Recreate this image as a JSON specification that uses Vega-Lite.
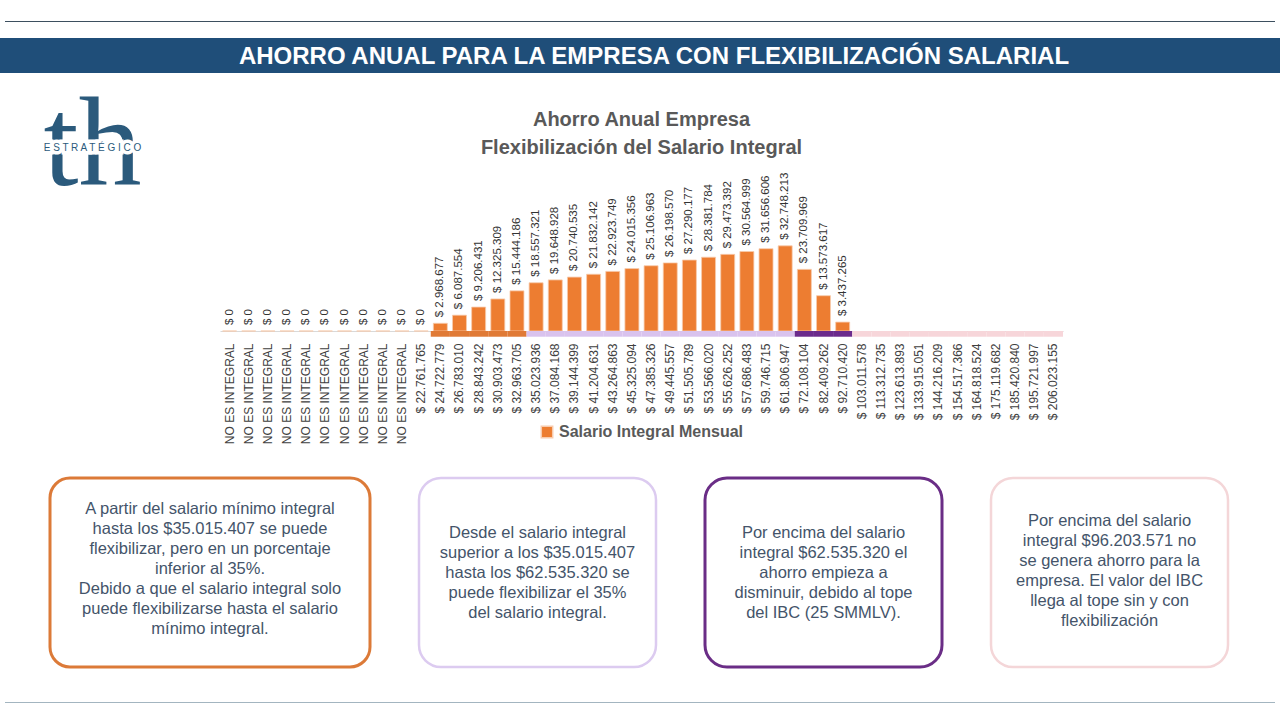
{
  "$schema": "https://vega.github.io/schema/vega-lite/v6.json",
  "description": "Ahorro anual para la empresa con flexibilización salarial",
  "padding": 0,
  "background": "white",
  "spacing": 0,
  "config": {
    "font": "Liberation Sans",
    "view": {"stroke": null},
    "concat": {"spacing": 0},
    "legend": {"layout": {"bottom": {"anchor": "middle"}}},
    "locale": {
      "number": {"decimal": ",", "thousands": ".", "grouping": [3], "currency": ["$ ", ""]}
    }
  },
  "vconcat": [
    {"width": 1280, "height": 21, "data": {"values": [{}]}, "mark": {"type": "rect", "opacity": 0}, "encoding": {}},
    {
      "hconcat": [
        {"width": 5, "height": 1, "data": {"values": [{}]}, "mark": {"type": "rect", "opacity": 0}, "encoding": {}},
        {"width": 1270, "height": 1, "data": {"values": [{}]}, "mark": {"type": "rect", "color": "#3d4f5f"}, "encoding": {}}
      ]
    },
    {"width": 1280, "height": 16, "data": {"values": [{}]}, "mark": {"type": "rect", "opacity": 0}, "encoding": {}},
    {
      "width": 1280,
      "height": 35,
      "view": {"fill": "#1f4e79"},
      "data": {"values": [{}]},
      "mark": {
        "type": "text",
        "text": "AHORRO ANUAL PARA LA EMPRESA CON FLEXIBILIZACIÓN SALARIAL",
        "color": "white",
        "fontSize": 24,
        "fontWeight": "bold",
        "baseline": "middle",
        "dx": 14,
        "dy": 1
      },
      "encoding": {}
    },
    {"width": 1280, "height": 11, "data": {"values": [{}]}, "mark": {"type": "rect", "opacity": 0}, "encoding": {}},
    {
      "spacing": 35,
      "hconcat": [
        {
          "width": 185,
          "height": 110,
          "data": {"values": [{}]},
          "layer": [
            {
              "mark": {"type": "text", "text": "th", "font": "Liberation Serif", "fontSize": 126, "color": "#2b5a7c", "baseline": "alphabetic", "dy": -32},
              "encoding": {}
            },
            {
              "mark": {"type": "text", "text": "E S T R A T É G I C O", "fontSize": 10, "color": "white", "stroke": "white", "strokeWidth": 7, "baseline": "middle", "dy": -69},
              "encoding": {}
            },
            {
              "mark": {"type": "text", "text": "E S T R A T É G I C O", "fontSize": 10, "color": "#2b5a7c", "baseline": "middle", "dy": -69},
              "encoding": {}
            }
          ]
        },
        {
          "width": 843,
          "height": 169,
          "title": {
            "text": ["Ahorro Anual Empresa", "Flexibilización del Salario Integral"],
            "fontSize": 20,
            "fontWeight": "bold",
            "color": "#595959",
            "lineHeight": 28,
            "offset": 4,
            "anchor": "middle"
          },
          "data": {
            "values": [
              {"salario": "NO ES INTEGRAL#1", "ahorro": 0, "tramo": null},
              {"salario": "NO ES INTEGRAL#2", "ahorro": 0, "tramo": null},
              {"salario": "NO ES INTEGRAL#3", "ahorro": 0, "tramo": null},
              {"salario": "NO ES INTEGRAL#4", "ahorro": 0, "tramo": null},
              {"salario": "NO ES INTEGRAL#5", "ahorro": 0, "tramo": null},
              {"salario": "NO ES INTEGRAL#6", "ahorro": 0, "tramo": null},
              {"salario": "NO ES INTEGRAL#7", "ahorro": 0, "tramo": null},
              {"salario": "NO ES INTEGRAL#8", "ahorro": 0, "tramo": null},
              {"salario": "NO ES INTEGRAL#9", "ahorro": 0, "tramo": null},
              {"salario": "NO ES INTEGRAL#10", "ahorro": 0, "tramo": null},
              {"salario": "$ 22.761.765", "ahorro": 0, "tramo": null},
              {"salario": "$ 24.722.779", "ahorro": 2968677, "tramo": "Flexibilización parcial"},
              {"salario": "$ 26.783.010", "ahorro": 6087554, "tramo": "Flexibilización parcial"},
              {"salario": "$ 28.843.242", "ahorro": 9206431, "tramo": "Flexibilización parcial"},
              {"salario": "$ 30.903.473", "ahorro": 12325309, "tramo": "Flexibilización parcial"},
              {"salario": "$ 32.963.705", "ahorro": 15444186, "tramo": "Flexibilización parcial"},
              {"salario": "$ 35.023.936", "ahorro": 18557321, "tramo": "Flexibilización 35%"},
              {"salario": "$ 37.084.168", "ahorro": 19648928, "tramo": "Flexibilización 35%"},
              {"salario": "$ 39.144.399", "ahorro": 20740535, "tramo": "Flexibilización 35%"},
              {"salario": "$ 41.204.631", "ahorro": 21832142, "tramo": "Flexibilización 35%"},
              {"salario": "$ 43.264.863", "ahorro": 22923749, "tramo": "Flexibilización 35%"},
              {"salario": "$ 45.325.094", "ahorro": 24015356, "tramo": "Flexibilización 35%"},
              {"salario": "$ 47.385.326", "ahorro": 25106963, "tramo": "Flexibilización 35%"},
              {"salario": "$ 49.445.557", "ahorro": 26198570, "tramo": "Flexibilización 35%"},
              {"salario": "$ 51.505.789", "ahorro": 27290177, "tramo": "Flexibilización 35%"},
              {"salario": "$ 53.566.020", "ahorro": 28381784, "tramo": "Flexibilización 35%"},
              {"salario": "$ 55.626.252", "ahorro": 29473392, "tramo": "Flexibilización 35%"},
              {"salario": "$ 57.686.483", "ahorro": 30564999, "tramo": "Flexibilización 35%"},
              {"salario": "$ 59.746.715", "ahorro": 31656606, "tramo": "Flexibilización 35%"},
              {"salario": "$ 61.806.947", "ahorro": 32748213, "tramo": "Flexibilización 35%"},
              {"salario": "$ 72.108.104", "ahorro": 23709969, "tramo": "Tope IBC"},
              {"salario": "$ 82.409.262", "ahorro": 13573617, "tramo": "Tope IBC"},
              {"salario": "$ 92.710.420", "ahorro": 3437265, "tramo": "Tope IBC"},
              {"salario": "$ 103.011.578", "ahorro": null, "tramo": "Sin ahorro"},
              {"salario": "$ 113.312.735", "ahorro": null, "tramo": "Sin ahorro"},
              {"salario": "$ 123.613.893", "ahorro": null, "tramo": "Sin ahorro"},
              {"salario": "$ 133.915.051", "ahorro": null, "tramo": "Sin ahorro"},
              {"salario": "$ 144.216.209", "ahorro": null, "tramo": "Sin ahorro"},
              {"salario": "$ 154.517.366", "ahorro": null, "tramo": "Sin ahorro"},
              {"salario": "$ 164.818.524", "ahorro": null, "tramo": "Sin ahorro"},
              {"salario": "$ 175.119.682", "ahorro": null, "tramo": "Sin ahorro"},
              {"salario": "$ 185.420.840", "ahorro": null, "tramo": "Sin ahorro"},
              {"salario": "$ 195.721.997", "ahorro": null, "tramo": "Sin ahorro"},
              {"salario": "$ 206.023.155", "ahorro": null, "tramo": "Sin ahorro"}
            ]
          },
          "encoding": {
            "x": {
              "field": "salario",
              "type": "ordinal",
              "sort": null,
              "title": null,
              "scale": {"paddingInner": 0.27},
              "axis": {
                "labelExpr": "split(datum.label, '#')[0]",
                "labelAngle": 270,
                "labelAlign": "right",
                "labelBaseline": "middle",
                "labelFontSize": 12,
                "labelColor": "#404040",
                "labelPadding": 12,
                "ticks": false,
                "domainColor": "#d9d9d9",
                "grid": false
              }
            }
          },
          "layer": [
            {
              "mark": {"type": "bar", "stroke": "#f8cbad", "strokeWidth": 0.8},
              "encoding": {
                "y": {"field": "ahorro", "type": "quantitative", "scale": {"domain": [0, 62900000]}, "axis": null},
                "color": {
                  "datum": "Salario Integral Mensual",
                  "type": "nominal",
                  "scale": {"range": ["#ed7d31"]},
                  "legend": {
                    "title": null,
                    "orient": "bottom",
                    "symbolType": "square",
                    "symbolSize": 130,
                    "labelFontSize": 16,
                    "labelFontWeight": "bold",
                    "labelColor": "#595959",
                    "labelLimit": 0,
                    "offset": -20
                  }
                }
              }
            },
            {
              "transform": [{"filter": "datum.tramo != null"}],
              "mark": {"type": "bar", "width": {"band": 1.37}},
              "encoding": {
                "y": {"datum": 0, "type": "quantitative", "scale": {"domain": [0, 62900000]}, "axis": null},
                "y2": {"datum": -2200000},
                "color": {
                  "field": "tramo",
                  "type": "nominal",
                  "scale": {
                    "domain": ["Flexibilización parcial", "Flexibilización 35%", "Tope IBC", "Sin ahorro"],
                    "range": ["#e07a36", "#d9c3ee", "#6b2b8c", "#f7d6da"]
                  },
                  "legend": null
                }
              }
            },
            {
              "mark": {"type": "text", "angle": 270, "align": "left", "baseline": "middle", "dx": 6, "fontSize": 11.5, "color": "#333333"},
              "encoding": {
                "y": {"field": "ahorro", "type": "quantitative"},
                "text": {"field": "ahorro", "type": "quantitative", "format": "$,.0f"}
              }
            }
          ],
          "resolve": {"scale": {"color": "independent"}}
        }
      ]
    },
    {"width": 1280, "height": 32, "data": {"values": [{}]}, "mark": {"type": "rect", "opacity": 0}, "encoding": {}},
    {
      "spacing": 45,
      "hconcat": [
        {"width": 3, "height": 189, "data": {"values": [{}]}, "mark": {"type": "rect", "opacity": 0}, "encoding": {}},
        {
          "width": 320,
          "height": 189,
          "view": {"stroke": "#dc7a38", "strokeWidth": 3, "cornerRadius": 20, "fill": "white"},
          "data": {"values": [{}]},
          "mark": {
            "type": "text",
            "text": ["A partir del salario mínimo integral", "hasta los $35.015.407 se puede", "flexibilizar, pero en un porcentaje", "inferior al 35%.", "Debido a que el salario integral solo", "puede flexibilizarse hasta el salario", "mínimo integral."],
            "fontSize": 16.5,
            "lineHeight": 20,
            "color": "#44546a",
            "baseline": "middle",
            "dy": -64
          },
          "encoding": {}
        },
        {
          "width": 237,
          "height": 189,
          "view": {"stroke": "#dccbf0", "strokeWidth": 2.5, "cornerRadius": 22, "fill": "white"},
          "data": {"values": [{}]},
          "mark": {
            "type": "text",
            "text": ["Desde el salario integral", "superior a los $35.015.407", "hasta los $62.535.320 se", "puede flexibilizar el 35%", "del salario integral."],
            "fontSize": 16.5,
            "lineHeight": 20,
            "color": "#44546a",
            "baseline": "middle",
            "dy": -40
          },
          "encoding": {}
        },
        {
          "width": 237,
          "height": 189,
          "view": {"stroke": "#6a2d86", "strokeWidth": 3, "cornerRadius": 22, "fill": "white"},
          "data": {"values": [{}]},
          "mark": {
            "type": "text",
            "text": ["Por encima del salario", "integral $62.535.320 el", "ahorro empieza a", "disminuir, debido al tope", "del IBC (25 SMMLV)."],
            "fontSize": 16.5,
            "lineHeight": 20,
            "color": "#44546a",
            "baseline": "middle",
            "dy": -40
          },
          "encoding": {}
        },
        {
          "width": 237,
          "height": 189,
          "view": {"stroke": "#f4d6d8", "strokeWidth": 2.5, "cornerRadius": 22, "fill": "white"},
          "data": {"values": [{}]},
          "mark": {
            "type": "text",
            "text": ["Por encima del salario", "integral $96.203.571 no", "se genera ahorro para la", "empresa. El valor del IBC", "llega al tope sin y con", "flexibilización"],
            "fontSize": 16.5,
            "lineHeight": 20,
            "color": "#44546a",
            "baseline": "middle",
            "dy": -52
          },
          "encoding": {}
        }
      ]
    },
    {"width": 1280, "height": 33, "data": {"values": [{}]}, "mark": {"type": "rect", "opacity": 0}, "encoding": {}},
    {
      "hconcat": [
        {"width": 5, "height": 1, "data": {"values": [{}]}, "mark": {"type": "rect", "opacity": 0}, "encoding": {}},
        {"width": 1270, "height": 1, "data": {"values": [{}]}, "mark": {"type": "rect", "color": "#a3b5c0"}, "encoding": {}}
      ]
    }
  ]
}
